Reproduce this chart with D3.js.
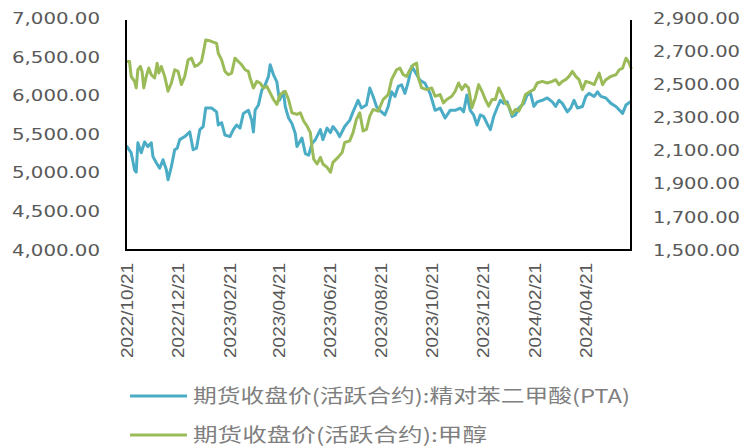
<!DOCTYPE html>
<html>
<head>
<meta charset="utf-8">
<script src="https://cdn.jsdelivr.net/npm/d3@7"></script>
<style>
  body { margin: 0; background: #fff; }
  svg { display: block; }
</style>
</head>
<body>
<svg id="chart" width="747" height="448"></svg>
<script>
// PTA futures close (active contract), left axis
const ptaDates = ["2022-10-21","2022-10-26","2022-10-30","2022-11-01","2022-11-03","2022-11-07","2022-11-11","2022-11-15","2022-11-19","2022-11-21",
  "2022-11-25","2022-11-29","2022-12-03","2022-12-07","2022-12-09","2022-12-13","2022-12-17","2022-12-20","2022-12-23","2022-12-29",
  "2023-01-04","2023-01-08","2023-01-12","2023-01-16","2023-01-20","2023-01-23","2023-01-30","2023-02-05","2023-02-07","2023-02-11",
  "2023-02-15","2023-02-21","2023-02-25","2023-03-01","2023-03-05","2023-03-09","2023-03-15","2023-03-19","2023-03-21","2023-03-23",
  "2023-03-27","2023-03-31","2023-04-04","2023-04-08","2023-04-10","2023-04-14","2023-04-18","2023-04-21","2023-04-26","2023-04-28",
  "2023-05-02","2023-05-06","2023-05-10","2023-05-12","2023-05-18","2023-05-22","2023-05-26","2023-05-30","2023-06-03","2023-06-09",
  "2023-06-12","2023-06-17","2023-06-21","2023-06-24","2023-06-29","2023-07-02","2023-07-08","2023-07-14","2023-07-18","2023-07-24",
  "2023-07-28","2023-08-03","2023-08-07","2023-08-11","2023-08-15","2023-08-19","2023-08-25","2023-08-29","2023-09-02","2023-09-06",
  "2023-09-10","2023-09-14","2023-09-18","2023-09-22","2023-09-26","2023-09-30","2023-10-06","2023-10-12","2023-10-18","2023-10-24",
  "2023-10-30","2023-11-05","2023-11-11","2023-11-17","2023-11-23","2023-11-27","2023-12-01","2023-12-05","2023-12-09","2023-12-13",
  "2023-12-17","2023-12-21","2023-12-25","2023-12-29","2024-01-02","2024-01-06","2024-01-10","2024-01-14","2024-01-18","2024-01-24",
  "2024-01-28","2024-02-01","2024-02-07","2024-02-11","2024-02-15","2024-02-19","2024-02-23","2024-02-29","2024-03-06","2024-03-12",
  "2024-03-16","2024-03-20","2024-03-24","2024-03-30","2024-04-03","2024-04-07","2024-04-11","2024-04-17","2024-04-21","2024-04-25",
  "2024-05-01","2024-05-05","2024-05-09","2024-05-15","2024-05-21","2024-05-27","2024-06-04","2024-06-08","2024-06-13"];
const ptaValues = [5340,5260,5040,5010,5390,5260,5400,5340,5390,5210,
  5130,5060,5170,5040,4910,5080,5300,5320,5430,5470,
  5530,5300,5320,5560,5600,5840,5840,5790,5620,5650,
  5490,5470,5560,5620,5580,5770,5810,5680,5530,5810,
  5880,6070,6140,6250,6400,6270,6180,5940,6050,5860,
  5710,5640,5510,5340,5450,5250,5230,5380,5430,5560,
  5430,5580,5520,5600,5530,5470,5600,5680,5790,5940,
  5840,5880,6100,5990,5860,5810,5750,5860,6050,5990,
  6120,6140,6030,6180,6380,6310,6200,6160,6030,5810,
  5840,5710,5810,5810,5840,5790,6010,5810,5750,5620,
  5750,5730,5640,5560,5730,5840,5940,5900,5920,5730,
  5750,5840,5900,6010,6030,5860,5920,5940,5970,5920,
  5860,5940,5900,5790,5840,5940,5840,5860,5990,6030,
  5990,6050,5990,5970,5900,5860,5770,5880,5920];

// Methanol futures close (active contract), right axis
const methanolDates = ["2022-10-21","2022-10-24","2022-10-26","2022-10-30","2022-11-01","2022-11-03","2022-11-06","2022-11-08","2022-11-10","2022-11-13",
  "2022-11-16","2022-11-19","2022-11-23","2022-11-26","2022-11-28","2022-12-01","2022-12-05","2022-12-09","2022-12-13","2022-12-17",
  "2022-12-21","2022-12-25","2022-12-29","2023-01-02","2023-01-06","2023-01-10","2023-01-14","2023-01-18","2023-01-20","2023-01-23",
  "2023-01-28","2023-02-05","2023-02-07","2023-02-11","2023-02-15","2023-02-19","2023-02-23","2023-02-27","2023-03-03","2023-03-07",
  "2023-03-11","2023-03-15","2023-03-17","2023-03-21","2023-03-25","2023-03-29","2023-04-02","2023-04-06","2023-04-10","2023-04-14",
  "2023-04-18","2023-04-22","2023-04-28","2023-05-02","2023-05-06","2023-05-12","2023-05-16","2023-05-20","2023-05-24","2023-05-28",
  "2023-05-30","2023-06-01","2023-06-05","2023-06-09","2023-06-12","2023-06-17","2023-06-21","2023-06-24","2023-06-30","2023-07-05",
  "2023-07-08","2023-07-14","2023-07-18","2023-07-22","2023-07-26","2023-07-30","2023-08-03","2023-08-07","2023-08-11","2023-08-17",
  "2023-08-23","2023-08-29","2023-09-02","2023-09-08","2023-09-12","2023-09-16","2023-09-20","2023-09-24","2023-09-28","2023-10-02",
  "2023-10-04","2023-10-08","2023-10-14","2023-10-20","2023-10-24","2023-10-30","2023-11-03","2023-11-07","2023-11-13","2023-11-17",
  "2023-11-21","2023-11-25","2023-11-29","2023-12-03","2023-12-07","2023-12-11","2023-12-15","2023-12-19","2023-12-23","2023-12-27",
  "2023-12-31","2024-01-04","2024-01-08","2024-01-12","2024-01-16","2024-01-20","2024-01-24","2024-01-28","2024-02-01","2024-02-05",
  "2024-02-09","2024-02-15","2024-02-19","2024-02-23","2024-02-29","2024-03-06","2024-03-12","2024-03-16","2024-03-20","2024-03-24",
  "2024-03-28","2024-04-01","2024-04-05","2024-04-09","2024-04-13","2024-04-17","2024-04-21","2024-04-27","2024-05-01","2024-05-07",
  "2024-05-11","2024-05-15","2024-05-21","2024-05-27","2024-05-31","2024-06-04","2024-06-08","2024-06-12","2024-06-14"];
const methanolValues = [2640,2640,2550,2520,2480,2590,2610,2580,2480,2550,
  2600,2560,2540,2630,2570,2610,2550,2460,2510,2590,
  2580,2500,2550,2650,2660,2610,2620,2640,2690,2770,
  2765,2750,2690,2650,2580,2560,2570,2660,2640,2620,
  2590,2580,2540,2480,2520,2510,2480,2490,2450,2410,
  2380,2440,2460,2410,2330,2320,2330,2280,2250,2210,
  2120,2050,2020,2060,2020,2000,1970,2030,2060,2090,
  2150,2160,2210,2290,2330,2220,2230,2310,2350,2340,
  2410,2440,2530,2590,2600,2560,2550,2590,2620,2630,
  2540,2480,2470,2480,2430,2440,2390,2410,2430,2460,
  2510,2470,2500,2480,2360,2420,2500,2460,2410,2370,
  2410,2410,2480,2440,2390,2370,2320,2350,2340,2380,
  2440,2460,2470,2510,2520,2510,2520,2530,2500,2520,
  2530,2550,2580,2550,2530,2470,2520,2510,2500,2570,
  2500,2530,2550,2560,2590,2600,2660,2630,2600];

const xTickLabels = ["2022/10/21","2022/12/21","2023/02/21","2023/04/21","2023/06/21",
  "2023/08/21","2023/10/21","2023/12/21","2024/02/21","2024/04/21"];
const leftTicks = [4000,4500,5000,5500,6000,6500,7000];
const rightTicks = [1500,1700,1900,2100,2300,2500,2700,2900];
const seriesNames = ["期货收盘价(活跃合约):精对苯二甲酸(PTA)", "期货收盘价(活跃合约):甲醇"];
const seriesColors = ["#4bacc6", "#9bbb59"];

const parseDay = d3.timeParse("%Y-%m-%d");
const parseTick = d3.timeParse("%Y/%m/%d");
const fmt = d3.format(",.2f");

const plot = { left: 127, right: 631, top: 18.5, bottom: 250 };
const svg = d3.select("#chart");

const x = d3.scaleTime()
  .domain([parseDay("2022-10-21"), parseDay("2024-06-14")])
  .range([plot.left, plot.right]);
const yLeft = d3.scaleLinear().domain([4000, 7000]).range([plot.bottom, plot.top]);
const yRight = d3.scaleLinear().domain([1500, 2900]).range([plot.bottom, plot.top]);

const pta = ptaDates.map((d, i) => ({ date: parseDay(d), value: ptaValues[i] }));
const methanol = methanolDates.map((d, i) => ({ date: parseDay(d), value: methanolValues[i] }));

// left value axis
const gL = svg.append("g").attr("transform", "translate(100,0)")
  .call(d3.axisLeft(yLeft).tickValues(leftTicks).tickFormat(fmt).tickSize(0).tickPadding(0));
gL.select(".domain").remove();
gL.selectAll("text")
  .attr("fill", "#595959").attr("font-family", "DejaVu Sans").attr("font-size", 16)
  .attr("textLength", 88).attr("lengthAdjust", "spacingAndGlyphs");

// right value axis
const gR = svg.append("g").attr("transform", "translate(653,0)")
  .call(d3.axisRight(yRight).tickValues(rightTicks).tickFormat(fmt).tickSize(0).tickPadding(0));
gR.select(".domain").remove();
gR.selectAll("text")
  .attr("fill", "#595959").attr("font-family", "DejaVu Sans").attr("font-size", 16)
  .attr("textLength", 87).attr("lengthAdjust", "spacingAndGlyphs");

// rotated date labels
svg.append("g").selectAll("text")
  .data(xTickLabels)
  .join("text")
  .attr("transform", d => `translate(${x(parseTick(d))},263) rotate(-90)`)
  .attr("text-anchor", "end")
  .attr("dy", "0.36em")
  .attr("fill", "#595959")
  .attr("font-family", "Liberation Sans")
  .attr("font-size", 16)
  .attr("textLength", 95)
  .attr("lengthAdjust", "spacingAndGlyphs")
  .text(d => d);

// series lines
const lineL = d3.line().x(d => x(d.date)).y(d => yLeft(d.value));
const lineR = d3.line().x(d => x(d.date)).y(d => yRight(d.value));
svg.append("path").datum(pta)
  .attr("d", lineL).attr("fill", "none").attr("stroke", seriesColors[0])
  .attr("stroke-width", 3).attr("stroke-linejoin", "round").attr("stroke-linecap", "round");
svg.append("path").datum(methanol)
  .attr("d", lineR).attr("fill", "none").attr("stroke", seriesColors[1])
  .attr("stroke-width", 3).attr("stroke-linejoin", "round").attr("stroke-linecap", "round");

// axis frame: left, bottom, right
const frame = svg.append("g").attr("stroke", "#000").attr("stroke-width", 2).attr("fill", "none");
frame.append("path")
  .attr("d", `M${plot.left - 1},20 V${plot.bottom} H${plot.right} V20`);

// legend
const legend = svg.append("g");
const legendRows = [396, 435];
const legendWidths = [437, 294];
seriesNames.forEach((name, i) => {
  legend.append("line")
    .attr("x1", 130).attr("x2", 187)
    .attr("y1", legendRows[i]).attr("y2", legendRows[i])
    .attr("stroke", seriesColors[i]).attr("stroke-width", 3);
  legend.append("text")
    .attr("x", 193).attr("y", legendRows[i]).attr("dy", "0.36em")
    .attr("fill", "#7f7f7f")
    .attr("font-family", "Noto Sans CJK SC")
    .attr("font-size", 19)
    .attr("textLength", legendWidths[i])
    .attr("lengthAdjust", "spacingAndGlyphs")
    .text(name);
});
</script>
</body>
</html>
